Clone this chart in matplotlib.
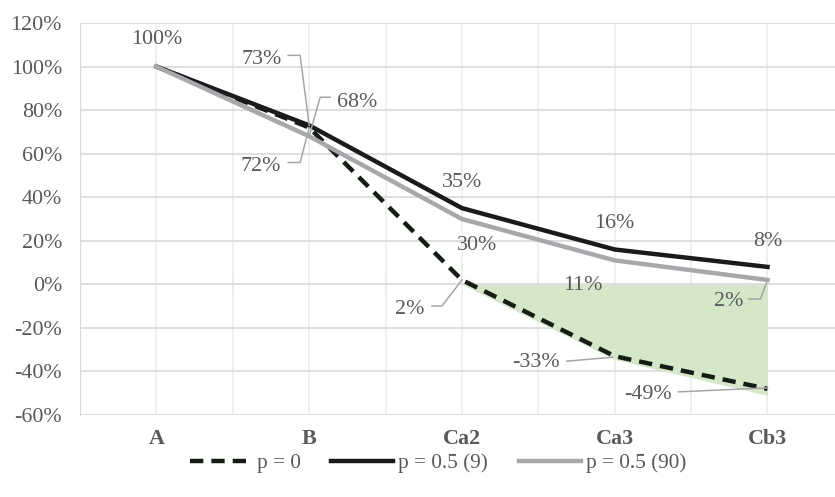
import matplotlib
matplotlib.use('Agg')
import matplotlib.pyplot as plt
from matplotlib.lines import Line2D
from matplotlib.ticker import FuncFormatter, MultipleLocator

# データ
categories = ['A', 'B', 'Ca2', 'Ca3', 'Cb3']
p0 = [1.00, 0.72, 0.02, -0.33, -0.48]
p05_9 = [1.00, 0.73, 0.35, 0.16, 0.08]
p05_90 = [1.00, 0.68, 0.30, 0.11, 0.02]
# 緑の領域 (Ca2 ～ Cb3)
area_idx = [2, 3, 4]
area_vals = [0.0, -0.345, -0.51]

series_labels = ['p = 0', 'p = 0.5 (9)', 'p = 0.5 (90)']

plt.rcParams['font.family'] = ['Liberation Serif', 'DejaVu Serif']
TXT = '#595959'
FS = 15.8

fig = plt.figure(figsize=(8.35, 4.97), dpi=100)
W, H = 835, 497
ax = fig.add_axes([80 / W, 1 - 415 / H, (835 - 80) / W, (415 - 23) / H])

x = list(range(len(categories)))

# 塗りつぶし
ax.fill_between(area_idx, 0, area_vals, color='#d4e7c9', lw=0, zorder=1)

l0, = ax.plot(x, p0, color='#141c14', lw=3.2, ls=(0, (3, 1.8)), zorder=3)
l1, = ax.plot(x, p05_9, color='#1a1a1a', lw=3.2, zorder=4)
l2, = ax.plot(x, p05_90, color='#a8a8ac', lw=3.2, zorder=5)

ax.set_xlim(-0.5, 4.442)
ax.set_ylim(-0.6, 1.2)

# グリッド
ax.yaxis.set_major_locator(MultipleLocator(0.2))
ax.yaxis.set_major_formatter(FuncFormatter(lambda v, p: f'{v * 100:.0f}%'))
ax.set_xticks(x)
ax.set_xticklabels(categories, fontweight='bold', color=TXT, fontsize=FS)
ax.xaxis.set_minor_locator(MultipleLocator(0.5))
ax.grid(axis='y', color='#d9d9d9', lw=1.2, zorder=0)
ax.grid(axis='x', which='both', color='#ececec', lw=1.2, zorder=0)
ax.tick_params(axis='y', length=0, pad=13, labelcolor=TXT, labelsize=FS)
ax.tick_params(axis='x', which='both', length=0, pad=10)
for s in ['top', 'right', 'bottom']:
    ax.spines[s].set_visible(False)
ax.spines['left'].set_color('#d9d9d9')
ax.set_axisbelow(True)

# 0%線の目盛り
ax.plot([i + 0.5 for i in x[:-1]], [0] * (len(x) - 1), ls='none', marker='|',
        ms=9, mew=1.2, color='#d9d9d9', zorder=0.5)

fig.canvas.draw()


def to_fig(px, py, dx, dy):
    # データ点から画像ピクセル単位のオフセット (dyは下向き)
    X, Y = ax.transData.transform((px, py))
    return fig.transFigure.inverted().transform((X + dx, Y - dy))


def label(i, vals, txt, dx, dy, leader=None):
    fx, fy = to_fig(i, vals[i], dx, dy + 2)
    fig.text(fx, fy, txt, ha='center', va='center', color=TXT, fontsize=FS, zorder=10)
    if leader:
        pts = [to_fig(i, vals[i], a, b) for a, b in leader]
        fig.add_artist(Line2D([p[0] for p in pts], [p[1] for p in pts],
                              color='#a6a6a6', lw=1.1, zorder=9))


label(0, p05_9, '100%', 0, -29)
label(1, p05_9, '73%', -48, -68, [(-21, -70), (-9, -70), (0, 0)])
label(1, p0, '72%', -48, 37, [(-21, 35), (-9, 35), (0, 0)])
label(1, p05_90, '68%', 48, -36, [(21, -39), (11, -39), (0, 0)])
label(2, p05_9, '35%', 0, -28)
label(2, p05_90, '30%', 15, 24)
label(2, p0, '2%', -52, 28, [(-30, 26), (-20, 26), (0, 0)])
label(3, p05_9, '16%', 0, -28)
label(3, p05_90, '11%', -32, 23)
label(3, p0, '-33%', -79, 4, [(-48, 5), (-2, 1)])
label(4, p05_9, '8%', 0, -27)
label(4, p05_90, '2%', -39, 20, [(-19, 19), (-7, 19), (0, 0)])
label(4, p0, '-49%', -120, 4, [(-89, 3), (0, -1)])

# 凡例
leg = fig.legend([l0, l1, l2], series_labels, loc='center', ncol=3,
                 bbox_to_anchor=(438 / W, 1 - 463 / H), frameon=False, fontsize=15.3,
                 handlelength=2.9, handletextpad=0.25, columnspacing=1.45)
for t in leg.get_texts():
    t.set_color(TXT)

fig.savefig('out.png', dpi=100)
